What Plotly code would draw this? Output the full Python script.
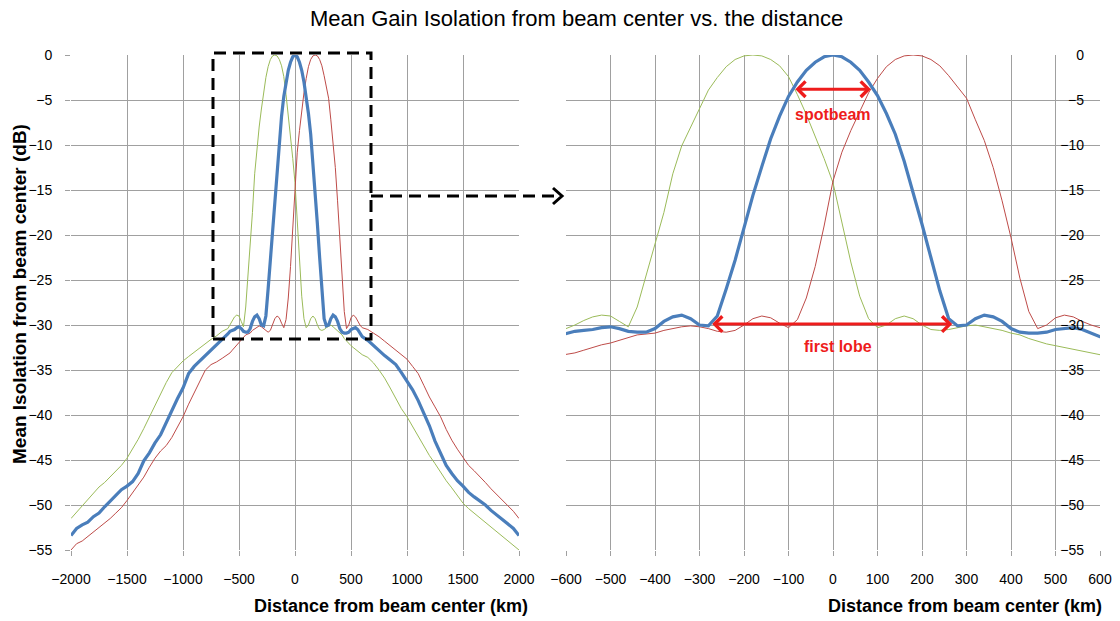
import plotly.graph_objects as go

W, H = 1120, 621

# ---------------- data ----------------
x_outer_left = list(range(-2000, -600, 50))
x_center = list(range(-600, 601, 20))
x_outer_right = list(range(650, 2001, 50))
distance_km = x_outer_left + x_center + x_outer_right

blue_center_beam = [
    # -2000 .. -650 (step 50)
    -53.4, -52.6, -52.2, -51.9, -51.3, -50.9, -50.2, -49.6, -48.9, -48.3,
    -47.9, -47.4, -46.5, -45.1, -44.2, -43.1, -42.2, -40.8, -39.6, -38.2,
    -37.0, -35.4, -34.6, -34.0, -33.4, -32.9, -32.3, -31.6,
    # -600 .. 600 (step 20)
    -31.0, -30.7, -30.6, -30.5, -30.3, -30.2, -30.4, -30.7, -30.8, -30.8,
    -30.4, -29.6, -29.1, -28.9, -29.3, -30.0, -30.1, -29.0, -26.0, -22.8,
    -19.2, -15.6, -12.4, -9.3, -6.8, -4.6, -3.0, -1.7, -0.8, -0.2,
    0.0,
    -0.2, -0.8, -1.7, -3.0, -4.5, -6.5, -8.8, -11.8, -15.2, -18.8,
    -22.5, -26.2, -29.3, -30.1, -30.0, -29.3, -28.9, -29.1, -29.6, -30.4,
    -30.8, -30.9, -30.9, -30.8, -30.5, -30.4, -30.3, -30.5, -30.9, -31.3,
    # 650 .. 2000 (step 50)
    -31.7, -32.3, -32.9, -33.4, -33.9, -34.4, -35.3, -36.3, -37.2, -38.4,
    -39.7, -41.2, -42.9, -44.3, -45.6, -46.5, -47.3, -47.9, -48.6, -49.1,
    -49.5, -50.0, -50.6, -51.1, -51.6, -52.0, -52.6, -53.4,
]

green_left_beam = [
    # -2000 .. -650
    -51.5, -50.8, -50.1, -49.4, -48.7, -48.0, -47.5, -46.9, -46.2, -45.6,
    -44.8, -43.8, -42.7, -41.5, -40.2, -38.9, -37.6, -36.4, -35.3, -34.6,
    -34.0, -33.5, -33.0, -32.6, -32.1, -31.6, -31.2, -30.7,
    # -600 .. 600
    -30.4, -30.0, -29.5, -29.1, -28.9, -29.0, -29.6, -30.2, -28.0, -24.6,
    -21.0, -17.5, -13.2, -10.1, -8.0, -6.0, -3.9, -2.5, -1.3, -0.5,
    -0.1, 0.0, -0.1, -0.5, -1.2, -2.4, -4.4, -6.6, -9.0, -11.5,
    -14.2,
    -18.5, -23.0, -26.8, -29.3, -30.3, -30.0, -29.3, -29.0, -29.3, -30.0,
    -30.5, -30.6, -30.5, -30.3, -30.1, -30.0, -30.2, -30.4, -30.6, -30.9,
    -31.1, -31.5, -31.8, -32.1, -32.3, -32.5, -32.7, -32.9, -33.1, -33.3,
    # 650 .. 2000
    -33.6, -34.2, -35.0, -35.9, -37.0, -38.2, -39.3, -40.2, -41.3, -42.4,
    -43.4, -44.5, -45.4, -46.4, -47.3, -48.1, -48.9, -49.8, -50.4, -50.9,
    -51.5, -52.0, -52.5, -53.0, -53.5, -54.0, -54.4, -55.0,
]

red_right_beam = [
    # -2000 .. -650
    -55.0, -54.3, -54.0, -53.5, -53.0, -52.6, -52.1, -51.5, -50.9, -50.3,
    -49.5, -48.6, -47.7, -46.9, -45.8, -44.8, -44.0, -43.4, -42.5, -41.4,
    -40.2, -38.8, -37.5, -36.2, -35.0, -34.4, -34.1, -33.7,
    # -600 .. 600
    -33.3, -33.1, -32.8, -32.5, -32.2, -32.0, -31.7, -31.4, -31.1, -31.0,
    -30.9, -30.6, -30.4, -30.2, -30.1, -30.2, -30.4, -30.7, -30.8, -30.6,
    -30.0, -29.3, -29.0, -29.2, -29.8, -30.3, -29.4, -27.0, -23.5, -19.0,
    -14.0,
    -10.8, -8.4, -6.2, -4.2, -2.6, -1.3, -0.5, -0.1, 0.0, -0.1,
    -0.5, -1.2, -2.3, -3.6, -4.8, -7.2, -9.5, -12.5, -16.2, -20.3,
    -24.8, -28.5, -30.4, -30.0, -29.2, -28.9, -29.1, -29.6, -30.0, -30.3,
    # 650 .. 2000
    -30.5, -30.9, -31.3, -31.8, -32.3, -32.8, -33.3, -33.8, -34.6, -35.4,
    -36.7, -38.0, -39.1, -40.2, -41.6, -42.8, -43.8, -44.7, -45.6, -46.2,
    -46.8, -47.5, -48.2, -48.8, -49.5, -50.0, -50.7, -51.5,
]

left_xticks = [-2000, -1500, -1000, -500, 0, 500, 1000, 1500, 2000]
right_xticks = [-600, -500, -400, -300, -200, -100, 0, 100, 200, 300, 400, 500, 600]
yticks = [0, -5, -10, -15, -20, -25, -30, -35, -40, -45, -50, -55]

title_text = "Mean Gain Isolation from beam center vs. the distance"
xtitle_text = "Distance from beam center (km)"
ytitle_text = "Mean Isolation from beam center (dB)"

# ---------------- styling ----------------
BLUE = "#4A7EBB"
RED = "#BE4B48"
GREEN = "#9BBB59"
GRID = "#A0A0A0"
FONT = "Liberation Sans, Arial, sans-serif"


def px(x):
    return x / W


def py(y):
    return 1 - y / H


fig = go.Figure()
for xa, ya in (("x", "y"), ("x2", "y2")):
    fig.add_trace(go.Scatter(x=distance_km, y=green_left_beam, mode="lines",
                             line=dict(color=GREEN, width=1), xaxis=xa, yaxis=ya,
                             showlegend=False, hoverinfo="skip"))
    fig.add_trace(go.Scatter(x=distance_km, y=red_right_beam, mode="lines",
                             line=dict(color=RED, width=1), xaxis=xa, yaxis=ya,
                             showlegend=False, hoverinfo="skip"))
    fig.add_trace(go.Scatter(x=distance_km, y=blue_center_beam, mode="lines",
                             line=dict(color=BLUE, width=3.2), xaxis=xa, yaxis=ya,
                             showlegend=False, hoverinfo="skip"))

tickfont = dict(family=FONT, size=14, color="#000000")
axis_common = dict(showgrid=True, gridcolor=GRID, gridwidth=1, zeroline=False,
                   showline=False, tickfont=tickfont, ticks="outside",
                   ticklen=5, tickcolor=GRID)

fig.update_layout(
    width=W, height=H,
    margin=dict(l=0, r=0, t=0, b=0, autoexpand=False),
    paper_bgcolor="white", plot_bgcolor="white",
    xaxis=dict(domain=[px(71), px(519)], range=[-2000, 2000], tickvals=left_xticks,
               anchor="y", ticklabelstandoff=11, **axis_common),
    yaxis=dict(domain=[py(550), py(55)], range=[-55, 0], tickvals=yticks,
               anchor="x", ticklabelstandoff=10, **axis_common),
    xaxis2=dict(domain=[px(566), px(1100)], range=[-600, 600], tickvals=right_xticks,
                anchor="y2", ticklabelstandoff=11, **axis_common),
    yaxis2=dict(domain=[py(550), py(55)], range=[-55, 0], tickvals=yticks,
                anchor="free", position=px(1084), side="left", showgrid=True,
                gridcolor=GRID, zeroline=False, showline=False, ticks="",
                tickfont=tickfont, ticklabelstandoff=0),
)

# ---------------- decorations (pixel positions of the callouts) ----------------
DASH = dict(color="black", width=3, dash="12px,7px")
box_left, box_right, box_top, box_bottom = 213, 371, 53, 339
shapes = [
    dict(type="rect", xref="paper", yref="paper", x0=px(box_left), x1=px(box_right),
         y0=py(box_bottom), y1=py(box_top), line=DASH),
    dict(type="line", xref="paper", yref="paper", x0=px(box_right), x1=px(558),
         y0=py(196), y1=py(196), line=DASH),
    dict(type="path", xref="paper", yref="paper",
         path=f"M {px(553)},{py(188)} L {px(562)},{py(196)} L {px(553)},{py(204)}",
         line=dict(color="black", width=3)),
]
fig.update_layout(shapes=shapes)

ann = []


def txt(text, x, y, size, color="#000000", angle=0, xref="paper", yref="paper"):
    return dict(text=text, x=x, y=y, xref=xref, yref=yref, showarrow=False,
                xanchor="center", yanchor="middle", textangle=angle,
                font=dict(family=FONT, size=size, color=color))


ann.append(txt(title_text, px(577), py(18), 22))
ann.append(txt("<b>" + xtitle_text + "</b>", px(391), py(606), 18))
ann.append(txt("<b>" + xtitle_text + "</b>", px(965), py(606), 18))
ann.append(txt("<b>" + ytitle_text + "</b>", px(19), py(294), 19, angle=-90))

RED_ANN = "#EE1C1C"
for (xa, xb, yv) in ((-88, 85, -3.8), (-275, 268, -29.9)):
    ann.append(dict(x=xb, y=yv, ax=xa, ay=yv, xref="x2", yref="y2", axref="x2", ayref="y2",
                    showarrow=True, arrowhead=4, startarrowhead=4, arrowside="end+start",
                    arrowsize=1, startarrowsize=1, arrowwidth=3, arrowcolor=RED_ANN, text=""))
ann.append(txt("<b>spotbeam</b>", 0, -6.6, 16, RED_ANN, xref="x2", yref="y2"))
ann.append(txt("<b>first lobe</b>", 12, -32.4, 16, RED_ANN, xref="x2", yref="y2"))
fig.update_layout(annotations=ann)

fig.write_html("out.html", config={"displayModeBar": False},
               post_script="document.body.style.margin='0';")
